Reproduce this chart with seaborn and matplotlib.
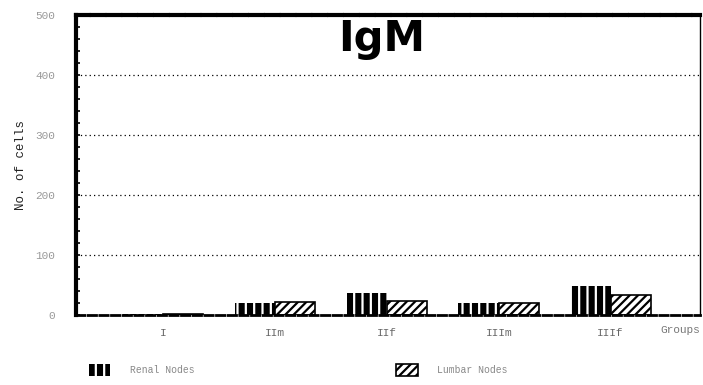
import matplotlib
matplotlib.use("Agg")
import matplotlib.pyplot as plt
import seaborn as sns
import pandas as pd
from matplotlib.patches import Patch
from matplotlib.ticker import MultipleLocator

groups = ["I", "IIm", "IIf", "IIIm", "IIIf"]
renal = [1, 20, 37, 20, 48]
lumbar = [1, 22, 24, 20, 33]
series = ["Renal Nodes", "Lumbar Nodes"]
yticks = [0, 100, 200, 300, 400, 500]

rows = []
for g, r, l in zip(groups, renal, lumbar):
    rows.append({"group": g, "series": series[0], "value": r})
    rows.append({"group": g, "series": series[1], "value": l})
df = pd.DataFrame(rows)

sns.set_theme(style="white")
plt.rcParams["hatch.linewidth"] = 1.6
mono = ["Liberation Mono", "DejaVu Sans Mono"]

fig = plt.figure(figsize=(7.03, 3.85), dpi=100)
ax = fig.add_axes([76/703, 70/385, 624/703, 300/385])

sns.barplot(data=df, x="group", y="value", hue="series", order=groups,
            hue_order=series, palette=["black", "white"], width=0.72,
            legend=False, ax=ax, saturation=1)

n = len(groups)
for i, p in enumerate(ax.patches[:2 * n]):
    if i < n:
        p.set_facecolor("black")
        p.set_edgecolor("white")
        p.set_hatch("||")
        p.set_linewidth(0)
    else:
        p.set_facecolor("white")
        p.set_edgecolor("black")
        p.set_hatch("////")
        p.set_linewidth(1.2)

ax.set_ylim(0, 500)
ax.set_xlim(-0.78, 4.8)
ax.set_yticks(yticks)
ax.set_yticklabels([str(v) for v in yticks], family=mono, fontsize=8, color="#999999")
ax.yaxis.set_minor_locator(MultipleLocator(20))
ax.tick_params(axis="y", which="both", direction="in", left=True, length=3, width=1.2, color="black", pad=15)
ax.tick_params(axis="x", bottom=False, pad=3)
ax.set_xticks(range(n))
ax.set_xticklabels(groups, family=mono, fontsize=8, color="#666666")
for y in yticks[1:-1]:
    ax.axhline(y, color="black", lw=0.9, ls=(0, (1, 2.5)), zorder=0)

ax.set_xlabel("")
ax.set_ylabel("No. of cells", family=mono, fontsize=9, color="#222222", labelpad=6)

ax.spines["left"].set_linewidth(3)
ax.spines["left"].set_color("black")
ax.spines["top"].set_linewidth(3)
ax.spines["top"].set_linestyle((0, (3, 0.8)))
ax.spines["top"].set_color("black")
ax.spines["bottom"].set_linewidth(2)
ax.spines["bottom"].set_linestyle((0, (3, 1.2)))
ax.spines["bottom"].set_color("black")
ax.spines["right"].set_linewidth(1)
ax.spines["right"].set_color("black")

ax.text(0.49, 0.99, "IgM", transform=ax.transAxes, ha="center", va="top",
        fontsize=30, fontweight="bold", family="DejaVu Sans", color="black")

fig.text(680/703, 1 - 330/385, "Groups", family=mono, fontsize=8, color="#777777",
         ha="center", va="center")

handles = [Patch(facecolor="black", edgecolor="white", hatch="||", linewidth=0),
           Patch(facecolor="white", edgecolor="black", hatch="////", linewidth=1.2)]
leg = fig.legend(handles, series, loc="center left", bbox_to_anchor=(80/703, 1 - 370/385),
                 ncol=2, frameon=False, columnspacing=20.8, handlelength=2.2, handleheight=1.4,
                 handletextpad=2.0, prop={"family": mono, "size": 7})
for t in leg.get_texts():
    t.set_color("#888888")

fig.savefig("out.png", dpi=100)
